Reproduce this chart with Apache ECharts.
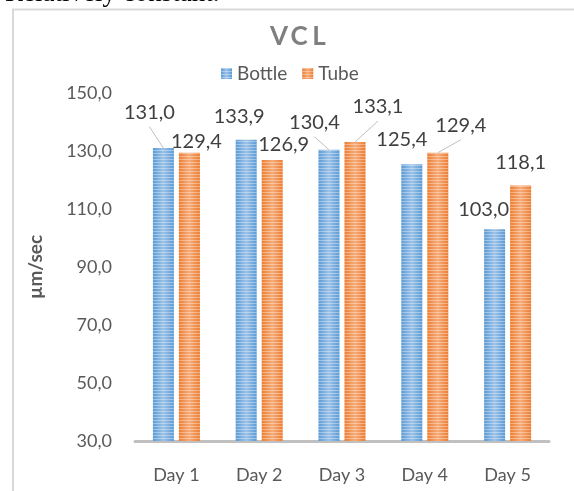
<!DOCTYPE html>
<html>
<head>
<meta charset="utf-8">
<script src="https://cdn.jsdelivr.net/npm/echarts@6/dist/echarts.min.js"></script>
<style>
html,body{margin:0;padding:0;background:#fff;}
#c{width:574px;height:491px;}
</style>
</head>
<body>
<div id="c"></div>
<script>
const categories = ['Day 1', 'Day 2', 'Day 3', 'Day 4', 'Day 5'];
const bottle = [131.0, 133.9, 130.4, 125.4, 103.0];
const tube = [129.4, 126.9, 133.1, 129.4, 118.1];
const seriesNames = ['Bottle', 'Tube'];
const titleText = 'VCL';
const axisName = 'µm/sec';
const pageText = 'Relatively constant.';

// label placement (moved labels, as in the original)
const bottleLabelShift = [[-14, -20.5], [-7, -8], [-14.5, -12], [-10, -10], [-11, -5]];
const tubeLabelShift = [[7, 3.7], [11.5, 0], [23, -20], [23, -12], [0, -8]];
const bottleLeader = [true, false, true, false, false];
const tubeLeader = [false, false, true, true, false];

const BAR_W = 21, BAR_GAP = 5;
const fmt = v => Number(v).toFixed(1).replace('.', ',');
const FONT = 'Lato';

function grad(edge, mid) {
  return new echarts.graphic.LinearGradient(0, 0, 1, 0, [
    {offset: 0, color: edge}, {offset: 0.5, color: mid}, {offset: 1, color: edge}
  ]);
}
const stripe = {
  symbol: 'rect', symbolSize: 1, rotation: 0,
  dashArrayX: [1, 0], dashArrayY: [1, 2],
  color: 'rgba(255,255,255,0.35)'
};

function layoutFn(shift) {
  return p => {
    const r = p.labelRect;
    const s = shift[p.dataIndex];
    return {
      x: r.x + r.width / 2 + s[0],
      y: r.y + r.height / 2 + s[1],
      align: 'center', verticalAlign: 'middle'
    };
  };
}

// leader lines: [categoryIndex, value, seriesIndex]
const leaderData = [];
bottle.forEach((v, i) => { if (bottleLeader[i]) leaderData.push([i, v, 0]); });
tube.forEach((v, i) => { if (tubeLeader[i]) leaderData.push([i, v, 1]); });

function renderLeader(params, api) {
  const idx = api.value(0), val = api.value(1), s = api.value(2);
  const pt = api.coord([idx, val]);
  const side = (s === 0 ? -1 : 1) * (BAR_W + BAR_GAP) / 2;
  const shift = (s === 0 ? bottleLabelShift : tubeLabelShift)[idx];
  const bx = pt[0] + side, by = pt[1];
  return {
    type: 'line',
    shape: {x1: bx + shift[0], y1: by + shift[1] - 1, x2: bx, y2: by},
    style: {stroke: '#bfbfbf', lineWidth: 1},
    silent: true
  };
}

// letter-spaced title
const titleRich = titleText.split('').map(c => '{l|' + c + '}').join('');
const titleFontStyle = {fontFamily: FONT, fontWeight: 'bold', fontSize: 26, lineHeight: 30, color: '#7f7f7f'};

const chart = echarts.init(document.getElementById('c'), null, {renderer: 'canvas'});
chart.setOption({
  animation: false,
  aria: {enabled: true, decal: {show: true}},
  graphic: [
    {type: 'rect', shape: {x: 13, y: 9.5, width: 620, height: 520},
     style: {fill: 'none', stroke: '#d9d9d9', lineWidth: 2}, silent: true, z: -1},
    {type: 'text', x: 5, y: -6,
     style: {text: pageText, fontSize: 27, fontFamily: 'Liberation Serif', fill: '#000',
             align: 'left', verticalAlign: 'middle'}}
  ],
  title: {
    text: titleRich, left: 294, top: 17, textAlign: 'center',
    textStyle: Object.assign({}, titleFontStyle, {
      rich: {l: Object.assign({width: 20, align: 'center'}, titleFontStyle)}
    })
  },
  legend: {
    data: seriesNames, left: 216, top: 59, itemWidth: 11, itemHeight: 11, itemGap: 15,
    textStyle: {fontFamily: FONT, fontSize: 19, color: '#595959'},
    icon: 'rect'
  },
  grid: {left: 135, right: 25, top: 93, bottom: 50, containLabel: false},
  xAxis: {
    type: 'category', data: categories,
    axisLine: {lineStyle: {color: '#c0c0c0', width: 3}},
    axisTick: {show: false},
    axisLabel: {fontFamily: FONT, fontSize: 18, color: '#595959', margin: 25}
  },
  yAxis: {
    type: 'value', min: 30, max: 150, interval: 20,
    name: axisName, nameLocation: 'middle', nameRotate: 90, nameGap: 90,
    nameTextStyle: {fontFamily: FONT, fontWeight: 'bold', fontSize: 19, color: '#595959'},
    axisLine: {show: false}, axisTick: {show: false}, splitLine: {show: false},
    axisLabel: {fontFamily: FONT, fontSize: 18, color: '#595959', margin: 23, formatter: fmt}
  },
  series: [
    {
      name: seriesNames[0], type: 'bar', data: bottle,
      barWidth: BAR_W, barGap: (BAR_GAP / BAR_W * 100) + '%',
      itemStyle: {color: grad('#5b9bd5', '#9cc2e8'), decal: stripe},
      label: {show: true, position: 'top', distance: 5, fontFamily: FONT, fontSize: 20,
              color: '#404040', formatter: p => fmt(p.value)},
      labelLayout: layoutFn(bottleLabelShift)
    },
    {
      name: seriesNames[1], type: 'bar', data: tube,
      barWidth: BAR_W, barGap: (BAR_GAP / BAR_W * 100) + '%',
      itemStyle: {color: grad('#ed7d31', '#f5ac7a'), decal: stripe},
      label: {show: true, position: 'top', distance: 5, fontFamily: FONT, fontSize: 20,
              color: '#404040', formatter: p => fmt(p.value)},
      labelLayout: layoutFn(tubeLabelShift)
    },
    {
      name: 'leaders', type: 'custom', data: leaderData, renderItem: renderLeader,
      silent: true, z: 3, tooltip: {show: false},
      encode: {x: 0, y: 1}
    }
  ]
});
</script>
</body>
</html>
